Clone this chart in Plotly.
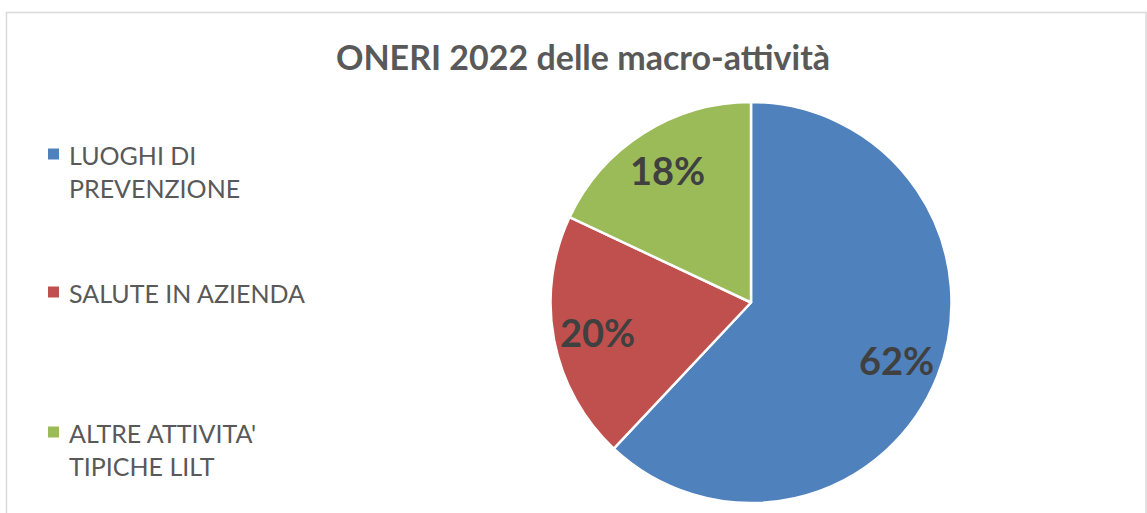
import math
import plotly.graph_objects as go

labels = ["LUOGHI DI PREVENZIONE", "SALUTE IN AZIENDA", "ALTRE ATTIVITA' TIPICHE LILT"]
legend_text = ["LUOGHI DI<br>PREVENZIONE", "SALUTE IN AZIENDA", "ALTRE ATTIVITA'<br>TIPICHE LILT"]
values = [62, 20, 18]
colors = ["#4F81BD", "#C0504D", "#9BBB59"]
title_text = "ONERI 2022 delle macro-attività"

W, H = 1147, 513
FONT = "Lato, 'Open Sans', sans-serif"

# pie placement (pixels)
CX, CY, R = 751, 302.5, 200.5

fig = go.Figure()
fig.add_trace(go.Pie(
    labels=labels, values=values, sort=False, direction="clockwise", rotation=0,
    marker=dict(colors=colors, line=dict(color="white", width=2.5)),
    textinfo="none",
    domain=dict(x=[(CX - R) / W, (CX + R) / W], y=[(H - CY - R) / H, (H - CY + R) / H]),
    showlegend=False, hoverinfo="label+percent",
))

# percentage labels, placed along each slice bisector (derived from values)
total = sum(values)
cum = 0
for v in values:
    mid = (cum + v / 2) / total * 2 * math.pi
    cum += v
    r = 0.78 * R
    px = CX + r * math.sin(mid)
    py = CY - r * math.cos(mid)
    fig.add_annotation(xref="paper", yref="paper", x=px / W, y=(H - py) / H,
                       xanchor="center", yanchor="middle", showarrow=False,
                       text="<b>%d%%</b>" % round(v / total * 100),
                       font=dict(family=FONT, size=38, color="#404040"))

# Manual legend (Excel-like spacing)
leg_y = [155, 293, 433]
for txt, col, y in zip(legend_text, colors, leg_y):
    fig.add_shape(type="rect", xref="paper", yref="paper",
                  x0=48 / W, x1=59 / W, y0=(H - (y - 1) + 5.5) / H, y1=(H - (y - 1) - 5.5) / H,
                  fillcolor=col, line=dict(width=0))
    fig.add_annotation(xref="paper", yref="paper", x=67 / W, y=(H - y + 17) / H,
                       xanchor="left", yanchor="top", align="left", showarrow=False,
                       text=txt, font=dict(family=FONT, size=25, color="#595959"))

fig.add_shape(type="rect", xref="paper", yref="paper", x0=6.5 / W, x1=1146 / W,
              y0=-0.05, y1=(H - 12.5) / H, line=dict(color="#D9D9D9", width=1.5),
              fillcolor="rgba(0,0,0,0)", layer="below")

fig.update_layout(
    width=W, height=H, autosize=False,
    margin=dict(l=0, r=0, t=0, b=0),
    paper_bgcolor="white", plot_bgcolor="white",
    title=dict(text="<b>" + title_text + "</b>", x=583 / W, xanchor="center",
               y=(H - 58) / H, yanchor="middle",
               font=dict(family=FONT, size=34, color="#595959")),
)

fig.write_html("out.html", config={"displayModeBar": False},
               post_script="document.body.style.margin='0';document.body.style.overflow='hidden';")
